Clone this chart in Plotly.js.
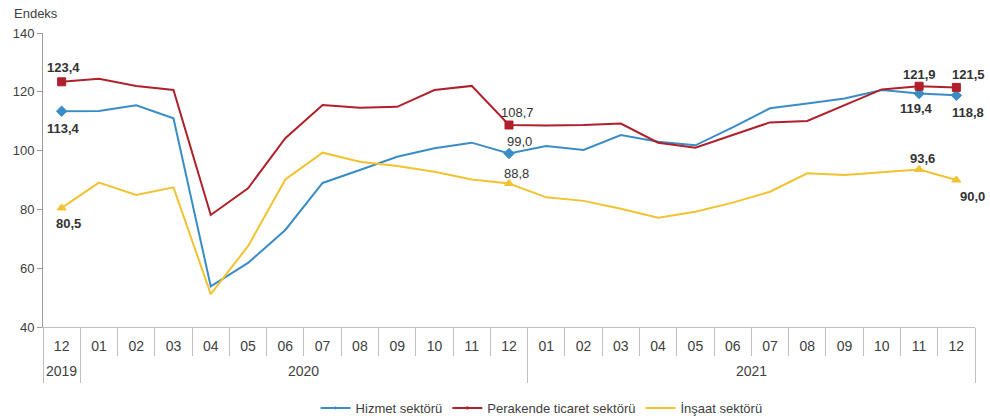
<!DOCTYPE html>
<html>
<head>
<meta charset="utf-8">
<script src="https://cdn.plot.ly/plotly-3.0.1.min.js"></script>
<style>html,body{margin:0;padding:0;background:#fff;}#chart{width:990px;height:416px;}</style>
</head>
<body>
<div id="chart"></div>
<script>
const years = ['2019','2020','2020','2020','2020','2020','2020','2020','2020','2020','2020','2020','2020',
               '2021','2021','2021','2021','2021','2021','2021','2021','2021','2021','2021','2021'];
const months = ['12','01','02','03','04','05','06','07','08','09','10','11','12',
                '01','02','03','04','05','06','07','08','09','10','11','12'];

const hizmet = [113.4,113.5,115.4,111.0,53.8,61.8,73.0,89.0,93.4,97.9,100.8,102.7,99.0,
                101.6,100.2,105.3,103.0,101.8,107.9,114.4,116.0,117.7,120.6,119.4,118.8];
const perakende = [123.4,124.4,122.0,120.6,78.1,87.2,104.2,115.5,114.6,114.9,120.6,122.0,108.7,
                   108.5,108.7,109.2,102.7,101.0,105.3,109.6,110.1,115.5,120.8,121.9,121.5];
const insaat = [80.5,89.1,84.9,87.5,51.2,67.5,90.2,99.3,96.2,94.8,92.8,90.2,88.8,
                84.1,82.9,80.2,77.2,79.2,82.3,86.0,92.3,91.7,92.6,93.6,90.0];

const seriesNames = ['Hizmet sektörü','Perakende ticaret sektörü','İnşaat sektörü'];
const labelIdx = [0, 12, 23, 24];
const boldIdx = [0, 23, 24];

const keys = years.map((y,i)=> y + '-' + months[i]);

function fmt(v){ return v.toFixed(1).replace('.', ','); }
function sizes(s){ return keys.map((_,i)=> labelIdx.indexOf(i) >= 0 ? s : 0); }

// year groups derived from the data
const yearList = [];
years.forEach((y,i)=>{
  let g = yearList.find(o=>o.year===y);
  if(!g){ g = {year:y, first:i, last:i}; yearList.push(g); }
  g.last = i;
});
const yearBounds = [-0.5].concat(yearList.map(g=> g.last + 0.5));
const yearCenters = yearList.map(g=> (g.first + g.last)/2);

const font = 'Liberation Sans, Arial, sans-serif';
const txt = '#333333';
const colors = ['#3a8cc6', '#b0202a', '#f2c230'];

const traces = [
  {
    name: seriesNames[0], x: keys, y: hizmet, type: 'scatter', mode: 'lines+markers',
    line: {color: colors[0], width: 2},
    marker: {symbol: 'diamond', size: sizes(8), color: colors[0], opacity: 1, line: {width: 1, color: colors[0]}},
    cliponaxis: false
  },
  {
    name: seriesNames[1], x: keys, y: perakende, type: 'scatter', mode: 'lines+markers',
    line: {color: colors[1], width: 2},
    marker: {symbol: 'square', size: sizes(8), color: colors[1], opacity: 1, line: {width: 1, color: colors[1]}},
    cliponaxis: false
  },
  {
    name: seriesNames[2], x: keys, y: insaat, type: 'scatter', mode: 'lines+markers',
    line: {color: colors[2], width: 2},
    marker: {symbol: 'triangle-up', size: sizes(8), color: colors[2], opacity: 1, line: {width: 1, color: colors[2]}},
    cliponaxis: false
  },
  {x: [], y: [], xaxis: 'x2', type: 'scatter', mode: 'lines', showlegend: false, hoverinfo: 'skip'}
];

// label offsets (px) per labelled point: [dx, dy] (dy positive = up)
const offsets = {
  hizmet:    {0: [2, -17], 12: [10, 12], 23: [-3, -15], 24: [12, -17]},
  perakende: {0: [2, 14],  12: [8, 13],  23: [0, 12],   24: [12, 13]},
  insaat:    {0: [7, -16], 12: [7, 10],  23: [3, 11],   24: [16, -16]}
};
const seriesData = {hizmet: hizmet, perakende: perakende, insaat: insaat};

const annotations = [
  {text: 'Endeks', xref: 'paper', yref: 'paper', x: -0.033, y: 1.035, xanchor: 'left', yanchor: 'bottom',
   showarrow: false, font: {family: font, size: 13, color: '#404040'}}
];
Object.keys(seriesData).forEach(name=>{
  const arr = seriesData[name];
  labelIdx.forEach(i=>{
    const o = offsets[name][i];
    annotations.push({
      text: boldIdx.indexOf(i) >= 0 ? '<b>' + fmt(arr[i]) + '</b>' : fmt(arr[i]),
      xref: 'x', yref: 'y', x: keys[i], y: arr[i], xshift: o[0], yshift: o[1],
      xanchor: 'center', yanchor: 'middle', showarrow: false,
      font: {family: font, size: 13, color: txt}
    });
  });
});
yearList.forEach((g,k)=>{
  annotations.push({
    text: g.year, xref: 'x2', yref: 'paper', x: yearCenters[k], y: -0.15, yanchor: 'middle', xanchor: 'center',
    showarrow: false, font: {family: font, size: 14, color: '#404040'}
  });
});

const layout = {
  width: 990, height: 416,
  margin: {l: 43, r: 15, t: 33, b: 89, autoexpand: false},
  paper_bgcolor: '#fff', plot_bgcolor: '#fff',
  font: {family: font, size: 13, color: '#404040'},
  showlegend: true,
  legend: {orientation: 'h', x: 0.535, xanchor: 'center', y: -0.2755, yanchor: 'middle',
           font: {family: font, size: 13, color: '#404040'}},
  xaxis: {
    type: 'category', categoryorder: 'array', categoryarray: keys,
    tickvals: keys, ticktext: months, tickson: 'boundaries',
    range: [-0.5, keys.length - 0.5],
    showline: true, linecolor: '#bfbfbf', linewidth: 1,
    ticks: 'outside', ticklen: 28, tickcolor: '#bfbfbf', tickwidth: 1,
    ticklabelstandoff: 6,
    showgrid: false, zeroline: false,
    tickfont: {family: font, size: 14, color: '#404040'}
  },
  xaxis2: {
    overlaying: 'x', anchor: 'y', side: 'bottom', type: 'linear',
    range: [-0.5, keys.length - 0.5],
    tickmode: 'array', tickvals: yearBounds, showticklabels: false,
    ticks: 'outside', ticklen: 55, tickcolor: '#bfbfbf', tickwidth: 1,
    showline: false, showgrid: false, zeroline: false
  },
  yaxis: {
    range: [40, 140], tickvals: [40,60,80,100,120,140],
    showline: true, linecolor: '#9a9a9a', linewidth: 1,
    ticks: 'outside', ticklen: 5, tickcolor: '#9a9a9a',
    showgrid: false, zeroline: false,
    tickfont: {family: font, size: 13, color: '#404040'}
  },
  annotations: annotations
};

Plotly.newPlot('chart', traces, layout, {displayModeBar: false, staticPlot: true});
</script>
</body>
</html>
